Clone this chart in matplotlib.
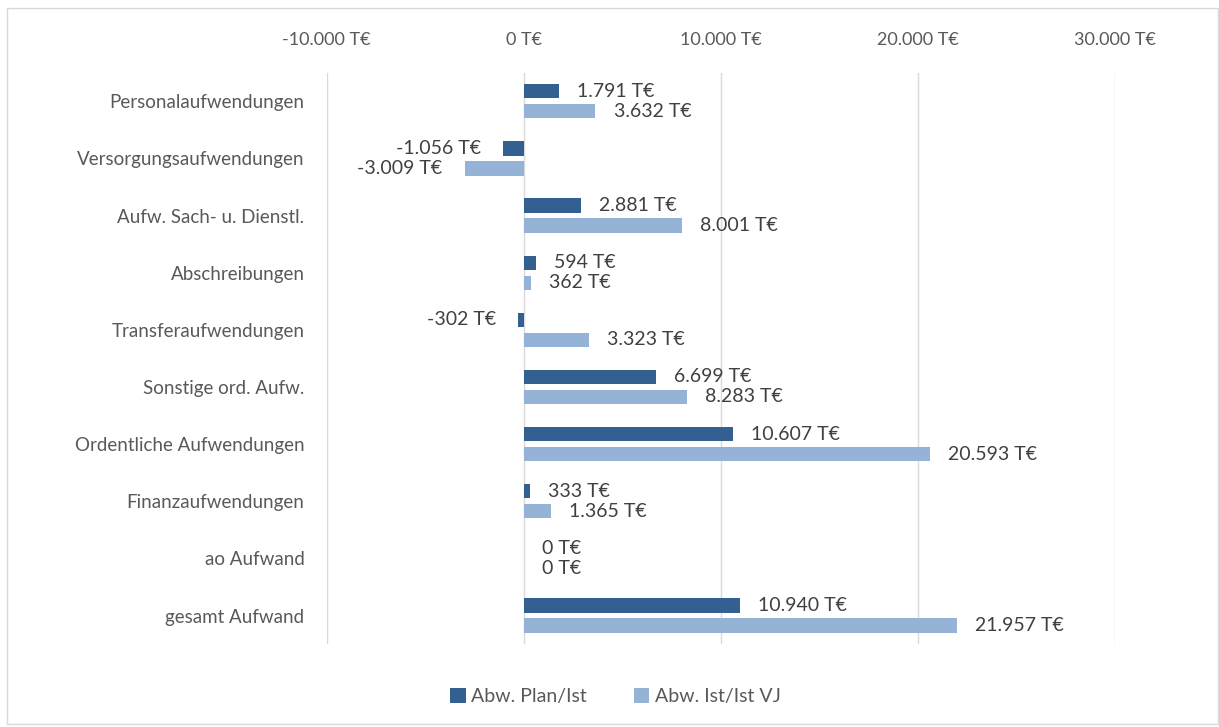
#!/usr/bin/env python3
import numpy as np
import matplotlib.pyplot as plt
from matplotlib.patches import Rectangle

plt.rcParams['font.family'] = ['Lato', 'DejaVu Sans']

categories = ["Personalaufwendungen", "Versorgungsaufwendungen", "Aufw. Sach- u. Dienstl.",
              "Abschreibungen", "Transferaufwendungen", "Sonstige ord. Aufw.",
              "Ordentliche Aufwendungen", "Finanzaufwendungen", "ao Aufwand", "gesamt Aufwand"]
plan_ist = [1791, -1056, 2881, 594, -302, 6699, 10607, 333, 0, 10940]
ist_vj = [3632, -3009, 8001, 362, 3323, 8283, 20593, 1365, 0, 21957]
xticks = [-10000, 0, 10000, 20000, 30000]

dark = '#335F91'
light = '#95B3D7'
grey = '#595959'


def fmt(v):
    s = "{:,}".format(int(v)).replace(',', '.')
    return s + " T€"


fig = plt.figure(figsize=(12.19, 7.27), dpi=100)
fig.patches.append(Rectangle((0.006, 0.004), 0.993, 0.985, transform=fig.transFigure,
                             fill=False, edgecolor='#D9D9D9', linewidth=1))
ax = fig.add_axes([0.268, 0.114, 0.647, 0.786])

y = np.arange(len(categories))
h = 0.25
off = 0.175
ax.barh(y - off, plan_ist, height=h, color=dark, label="Abw. Plan/Ist", zorder=3)
ax.barh(y + off, ist_vj, height=h, color=light, label="Abw. Ist/Ist VJ", zorder=3)

for i in range(len(categories)):
    for val, yy in ((plan_ist[i], y[i] - off), (ist_vj[i], y[i] + off)):
        if val < 0:
            ax.annotate(fmt(val), (val, yy), xytext=(-16, 0), textcoords='offset points',
                        ha='right', va='center', fontsize=14, color='#404040')
        else:
            ax.annotate(fmt(val), (val, yy), xytext=(13, 0), textcoords='offset points',
                        ha='left', va='center', fontsize=14, color='#404040')

ax.set_xlim(-10000, 30000)
ax.set_ylim(len(categories) - 0.5, -0.5)
ax.set_xticks(xticks)
ax.set_xticklabels([fmt(t) for t in xticks])
ax.xaxis.tick_top()
ax.tick_params(axis='x', length=0, pad=18, labelsize=13, labelcolor=grey)
ax.set_yticks(y)
ax.set_yticklabels(categories)
ax.tick_params(axis='y', length=0, pad=16, labelsize=13.5, labelcolor=grey)
ax.grid(axis='x', color='#D9D9D9', linewidth=1, zorder=0)
for s in ax.spines.values():
    s.set_visible(False)

fig.legend(loc='center', bbox_to_anchor=(0.505, 0.042), ncol=2, frameon=False,
           fontsize=14, labelcolor=grey, handlelength=0.8, handleheight=0.8,
           handletextpad=0.3, columnspacing=2.4)

fig.savefig("out.png", dpi=100)
